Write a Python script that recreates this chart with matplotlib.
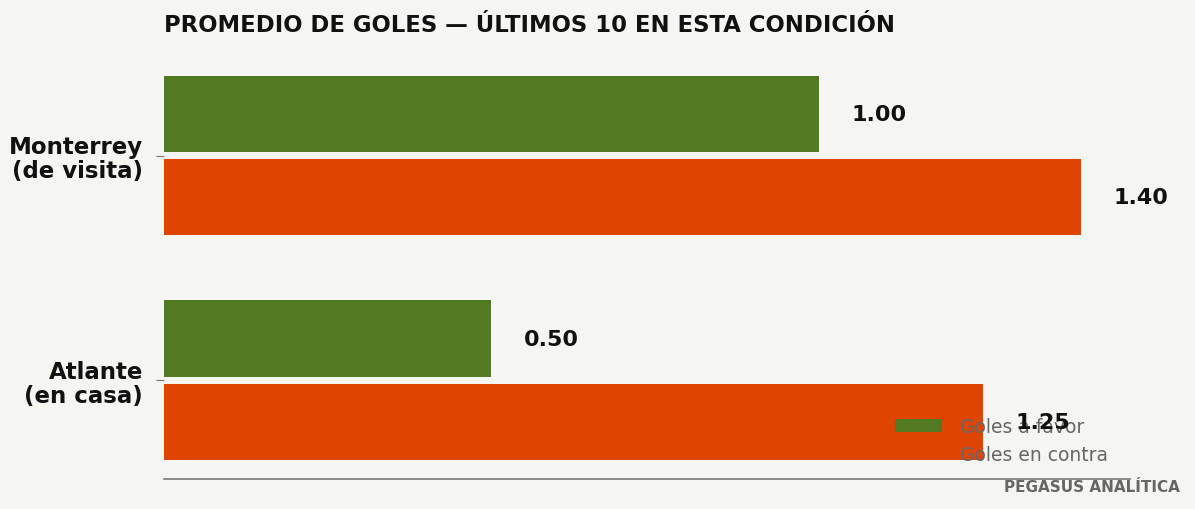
import matplotlib
matplotlib.use("Agg")
import matplotlib.pyplot as plt
import numpy as np

categories = ["Monterrey\n(de visita)", "Atlante\n(en casa)"]
goles_favor = [1.00, 0.50]
goles_contra = [1.40, 1.25]
title = "PROMEDIO DE GOLES — ÚLTIMOS 10 EN ESTA CONDICIÓN"

bg = "#f5f5f1"
green = "#527a22"
red = "#df4500"

fig = plt.figure(figsize=(11.95, 5.1), dpi=100, facecolor=bg)
ax = fig.add_axes([164/1195, 30/510, 966/1195, 420/510], facecolor=bg)
y = np.arange(len(categories))
h = 0.34
off = 0.185
b1 = ax.barh(y - off, goles_favor, height=h, color=green, label="Goles a favor", zorder=2)
b2 = ax.barh(y + off, goles_contra, height=h, color=red, label="Goles en contra", zorder=2)
for bars, vals in ((b1, goles_favor), (b2, goles_contra)):
    for b, v in zip(bars, vals):
        ax.text(v + 0.05, b.get_y() + b.get_height()/2, f"{v:.2f}", va="center", ha="left",
                fontsize=16, fontweight="bold", color="#111111", zorder=6)
ax.set_xlim(0, 1.475)
ax.set_ylim(1.44, -0.43)
ax.set_yticks(y)
ax.set_yticklabels(categories, fontsize=16.5, fontweight="bold", color="#111111", linespacing=1.05)
ax.tick_params(axis="y", length=6, color="#777777", pad=9)
ax.set_xticks([])
for s in ("top", "right", "left"):
    ax.spines[s].set_visible(False)
ax.spines["bottom"].set_color("#777777")
ax.spines["bottom"].set_linewidth(1.2)
leg = ax.legend(loc="lower right", bbox_to_anchor=(0.995, -0.005), frameon=False, fontsize=13.5,
                labelcolor="#666666", handlelength=2.5, handletextpad=1.0)
fig.text(164/1195, 1 - 25/510, title, fontsize=16.4, fontweight="bold", color="#111111", va="center", ha="left")
fig.text(1180/1195, 1 - 487/510, "PEGASUS ANALÍTICA", fontsize=11, fontweight="bold", color="#666666",
         ha="right", va="center")
fig.savefig("out.png", dpi=100, facecolor=bg)
